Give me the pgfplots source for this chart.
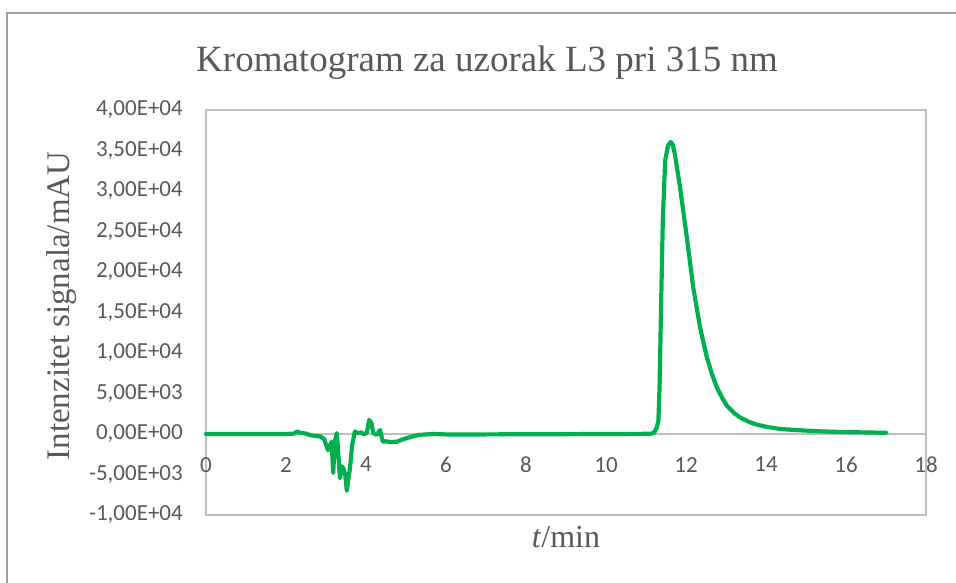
\documentclass[border=0pt]{standalone}
\usepackage{pgfplots}
\pgfplotsset{compat=1.18}
\usepackage{fontspec}
\setmainfont{Liberation Serif}
\newfontfamily\tickfont{Carlito}
\definecolor{txtgray}{HTML}{595959}
\definecolor{boxgray}{HTML}{BFBFBF}
\definecolor{framegray}{HTML}{A0A0A0}
\definecolor{xlgreen}{HTML}{00B050}
\begin{document}
\begin{tikzpicture}[x=1pt,y=1pt]
\useasboundingbox (0,0) rectangle (956,583);
\draw[framegray,line width=1.2pt] (7,-5) -- (7,570) -- (962,570);
\node[txtgray,font=\fontsize{37}{40}\selectfont,anchor=base] at (487,511) {Kromatogram za uzorak L3 pri 315 nm};
\node[txtgray,font=\fontsize{33}{36}\selectfont,rotate=90] at (62,277) {Intenzitet signala/mAU};
\node[txtgray,font=\fontsize{32}{36}\selectfont,anchor=base] at (566,35) {\textit{t}/min};
\begin{axis}[
  at={(206pt,68pt)}, anchor=south west,
  width=720pt, height=405pt, scale only axis,
  xmin=0, xmax=18, ymin=-10000, ymax=40000,
  scaled y ticks=false, scaled x ticks=false,
  axis line style={boxgray, line width=1.2pt},
  major tick length=0pt,
  xtick={0,2,...,18},
  xticklabels={0,2,4,6,8,10,12,14,16,18},
  ytick={-10000,-5000,0,5000,10000,15000,20000,25000,30000,35000,40000},
  yticklabels={{-1,00E+04},{-5,00E+03},{0,00E+00},{5,00E+03},{1,00E+04},{1,50E+04},{2,00E+04},{2,50E+04},{3,00E+04},{3,50E+04},{4,00E+04}},
  ticklabel style={txtgray, font=\tickfont\fontsize{23}{26}\selectfont, inner sep=0pt},
  xticklabel style={anchor=north, yshift=58pt},
  yticklabel style={anchor=east, xshift=-23pt},
  clip=false,
]
\draw[boxgray, line width=1.2pt] (axis cs:0,0) -- (axis cs:18,0);
\addplot[xlgreen, line width=4.2pt, line join=round, line cap=round] coordinates {
(0,0) (0.5,0) (1,0) (1.5,0) (2,0) (2.2,50) (2.27,300) (2.35,150) (2.5,50)
(2.6,-150) (2.75,-250) (2.85,-300) (2.95,-600) (3.05,-2000) (3.12,-1200)
(3.14,-950) (3.18,-4800) (3.22,-1000) (3.27,100) (3.3,-2000) (3.35,-5450)
(3.4,-4000) (3.43,-4200) (3.48,-5000) (3.52,-7000) (3.56,-5500) (3.6,-4200)
(3.65,-1500) (3.72,300) (3.8,100) (3.88,200) (3.93,0) (4.02,100) (4.08,1730)
(4.14,1300) (4.18,100) (4.27,-100) (4.35,500) (4.42,-950) (4.5,-900)
(4.6,-1000) (4.77,-950) (4.9,-700) (5.02,-500) (5.2,-250) (5.35,-100)
(5.68,0) (6,-50) (7,-50) (8,-30) (9,-20) (10,0) (11,20) (11.15,50)
(11.22,300) (11.27,800) (11.31,1640) (11.34,6000) (11.37,14000) (11.42,26400)
(11.48,33800) (11.55,35600) (11.62,36050) (11.67,35700) (11.72,34600)
(11.85,30500) (12.02,24300) (12.18,18100) (12.35,13200) (12.52,9470)
(12.65,7400) (12.77,5760) (12.9,4500) (13.02,3500) (13.2,2600) (13.35,2050)
(13.55,1550) (13.77,1150) (14.05,850) (14.35,620) (14.7,500) (15.02,410)
(15.4,320) (15.85,250) (16.4,200) (17.0,150)
};
\end{axis}
\end{tikzpicture}
\end{document}
